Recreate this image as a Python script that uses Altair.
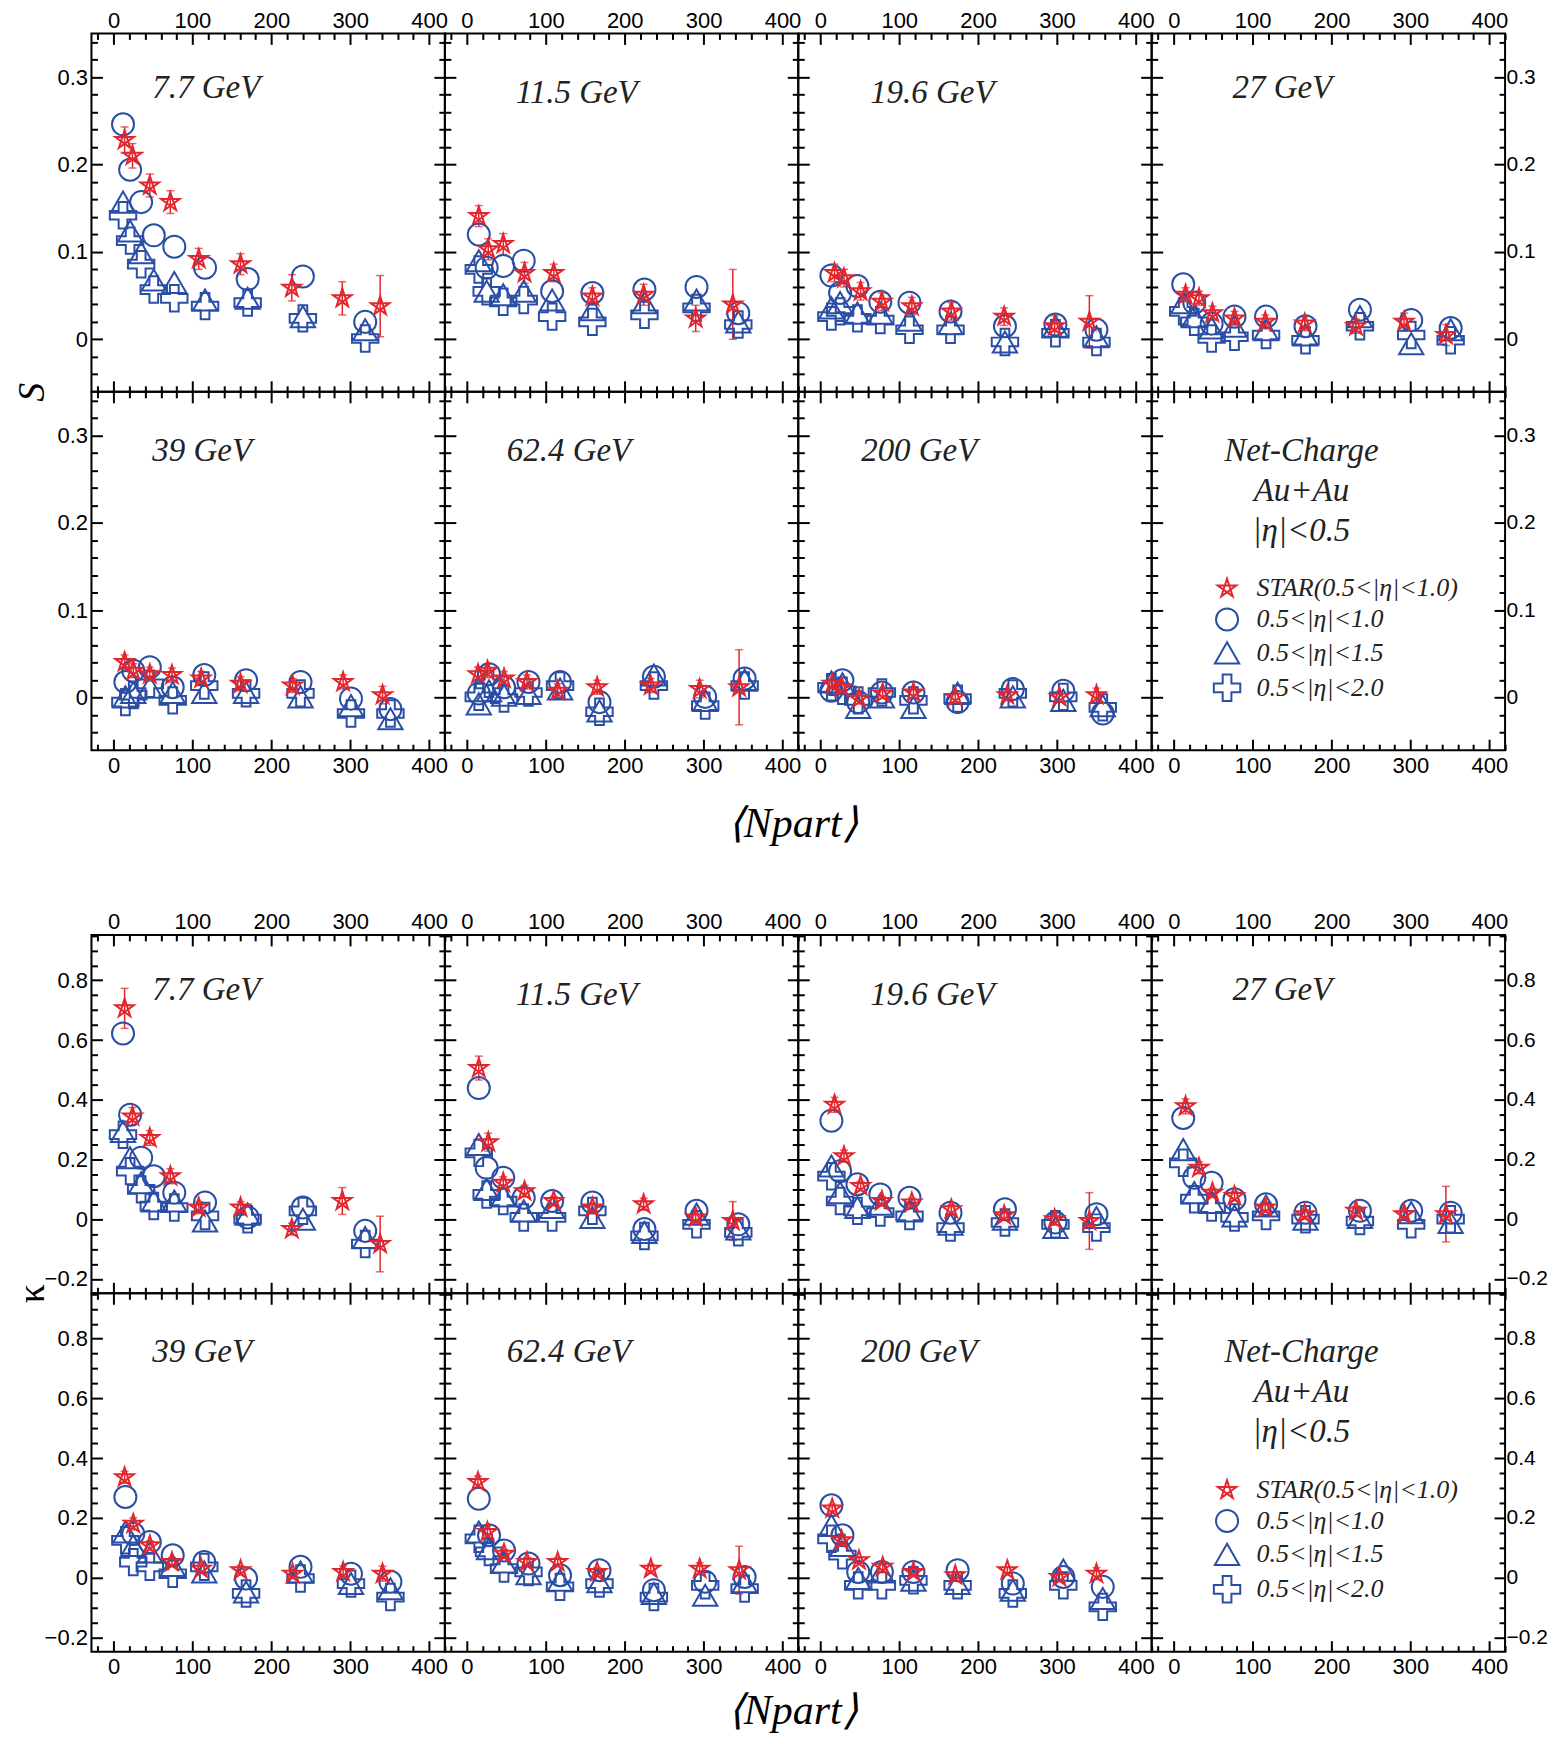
import altair as alt
import pandas as pd

# ---- data ----
energies = ["7.7 GeV", "11.5 GeV", "19.6 GeV", "27 GeV", "39 GeV", "62.4 GeV", "200 GeV"]
series = ["STAR(0.5<|η|<1.0)", "0.5<|η|<1.0", "0.5<|η|<1.5", "0.5<|η|<2.0"]
info_lines = ["Net-Charge", "Au+Au", "|η|<0.5"]

npart_star = [
    [14, 24, 46, 72, 108, 161, 226, 290, 338],
    [15, 27, 46, 73, 110, 159, 224, 290, 337],
    [18, 30, 51, 78, 116, 166, 233, 297, 341],
    [15, 32, 49, 77, 116, 166, 231, 292, 345],
    [14, 25, 46, 74, 111, 161, 227, 291, 341],
    [14, 26, 47, 76, 115, 165, 233, 295, 345],
    [15, 27, 49, 79, 118, 171, 237, 303, 350],
]
npart_model = [
    [12, 21, 35, 51, 77, 116, 170, 240, 319],
    [15, 25, 46, 72, 108, 159, 225, 291, 344],
    [14, 25, 47, 76, 113, 165, 234, 298, 350],
    [12, 26, 48, 77, 117, 167, 236, 301, 351],
    [15, 25, 46, 75, 115, 168, 237, 301, 351],
    [15, 28, 47, 78, 118, 168, 237, 302, 352],
    [14, 28, 48, 78, 118, 174, 244, 308, 358],
]

# skewness S
S_star = [
    [0.228, 0.210, 0.176, 0.157, 0.092, 0.086, 0.059, 0.047, 0.038],
    [0.141, 0.103, 0.109, 0.076, 0.076, 0.049, 0.051, 0.024, 0.040],
    [0.076, 0.070, 0.055, 0.043, 0.038, 0.032, 0.026, 0.015, 0.020],
    [0.051, 0.047, 0.030, 0.024, 0.020, 0.018, 0.015, 0.020, 0.005],
    [0.041, 0.031, 0.027, 0.026, 0.022, 0.016, 0.014, 0.018, 0.003],
    [0.027, 0.031, 0.022, 0.018, 0.008, 0.012, 0.014, 0.010, 0.012],
    [0.016, 0.012, -0.001, 0.005, 0.006, 0.001, 0.003, 0.001, 0.003],
]
S_star_err = [
    [0.015, 0.014, 0.013, 0.013, 0.012, 0.012, 0.015, 0.019, 0.035],
    [0.012, 0.012, 0.012, 0.012, 0.010, 0.010, 0.012, 0.015, 0.040],
    [0.010, 0.010, 0.010, 0.010, 0.010, 0.010, 0.010, 0.012, 0.030],
    [0.008, 0.008, 0.008, 0.008, 0.008, 0.008, 0.008, 0.010, 0.012],
    [0.008, 0.008, 0.008, 0.008, 0.008, 0.008, 0.008, 0.008, 0.010],
    [0.008, 0.008, 0.008, 0.008, 0.008, 0.008, 0.008, 0.010, 0.043],
    [0.006, 0.006, 0.006, 0.006, 0.006, 0.006, 0.006, 0.006, 0.008],
]
S_eta10 = [
    [0.246, 0.194, 0.157, 0.119, 0.106, 0.082, 0.069, 0.072, 0.020],
    [0.120, 0.082, 0.084, 0.090, 0.055, 0.053, 0.057, 0.060, 0.030],
    [0.073, 0.053, 0.061, 0.043, 0.042, 0.032, 0.015, 0.017, 0.011],
    [0.063, 0.042, 0.018, 0.026, 0.026, 0.015, 0.034, 0.022, 0.013],
    [0.018, 0.031, 0.035, 0.012, 0.026, 0.020, 0.018, -0.001, -0.013],
    [0.005, 0.027, 0.012, 0.018, 0.018, -0.005, 0.024, 0.001, 0.022],
    [0.008, 0.020, -0.005, 0.006, 0.006, -0.005, 0.010, 0.008, -0.018],
]
S_eta15 = [
    [0.157, 0.124, 0.099, 0.068, 0.065, 0.045, 0.047, 0.026, 0.011],
    [0.090, 0.055, 0.051, 0.055, 0.045, 0.034, 0.042, 0.045, 0.020],
    [0.036, 0.042, 0.030, 0.030, 0.022, 0.018, -0.003, 0.015, 0.003],
    [0.042, 0.026, 0.013, 0.015, 0.011, 0.005, 0.026, -0.005, 0.011],
    [0.001, 0.006, 0.012, 0.006, 0.006, 0.006, 0.001, -0.009, -0.024],
    [-0.007, 0.008, 0.003, 0.005, 0.010, -0.015, 0.026, -0.003, 0.020],
    [0.018, 0.016, -0.011, 0.001, -0.011, 0.005, 0.001, -0.003, -0.009],
]
S_eta20 = [
    [0.142, 0.113, 0.086, 0.057, 0.047, 0.038, 0.042, 0.024, 0.001],
    [0.080, 0.055, 0.043, 0.045, 0.026, 0.020, 0.028, 0.036, 0.017],
    [0.026, 0.032, 0.024, 0.022, 0.011, 0.011, -0.003, 0.007, -0.003],
    [0.032, 0.020, 0.001, 0.003, 0.005, -0.001, 0.015, 0.005, -0.001],
    [-0.005, 0.003, 0.016, -0.003, 0.014, 0.005, 0.005, -0.018, -0.018],
    [0.001, 0.016, -0.001, 0.006, 0.014, -0.016, 0.014, -0.009, 0.014],
    [0.012, 0.008, -0.003, 0.006, -0.003, -0.001, 0.005, 0.001, -0.011],
]

# kurtosis kappa
K_star = [
    [0.706, 0.344, 0.272, 0.144, 0.039, 0.039, -0.033, 0.061, -0.083],
    [0.506, 0.258, 0.122, 0.094, 0.061, 0.039, 0.050, 0.006, -0.006],
    [0.383, 0.211, 0.111, 0.061, 0.056, 0.033, 0.013, 0.000, -0.006],
    [0.378, 0.172, 0.089, 0.078, 0.039, 0.017, 0.028, 0.017, 0.017],
    [0.336, 0.180, 0.108, 0.052, 0.030, 0.025, 0.013, 0.019, 0.013],
    [0.320, 0.153, 0.080, 0.052, 0.052, 0.019, 0.030, 0.030, 0.025],
    [0.231, 0.125, 0.058, 0.036, 0.019, 0.008, 0.025, 0.002, 0.013],
]
K_star_err = [
    [0.067, 0.030, 0.025, 0.025, 0.020, 0.020, 0.020, 0.045, 0.093],
    [0.040, 0.030, 0.020, 0.020, 0.015, 0.015, 0.020, 0.020, 0.065],
    [0.025, 0.020, 0.015, 0.015, 0.015, 0.015, 0.015, 0.020, 0.095],
    [0.025, 0.020, 0.015, 0.015, 0.015, 0.015, 0.015, 0.020, 0.093],
    [0.020, 0.020, 0.015, 0.015, 0.015, 0.015, 0.015, 0.020, 0.025],
    [0.020, 0.020, 0.015, 0.015, 0.015, 0.015, 0.015, 0.020, 0.080],
    [0.015, 0.015, 0.010, 0.010, 0.010, 0.010, 0.010, 0.015, 0.020],
]
K_eta10 = [
    [0.622, 0.350, 0.206, 0.144, 0.089, 0.056, 0.006, 0.039, -0.039],
    [0.439, 0.172, 0.139, 0.072, 0.061, 0.056, -0.033, 0.028, -0.017],
    [0.330, 0.161, 0.117, 0.083, 0.072, 0.022, 0.033, -0.011, 0.017],
    [0.339, 0.139, 0.122, 0.067, 0.050, 0.022, 0.028, 0.028, 0.022],
    [0.270, 0.147, 0.119, 0.075, 0.052, -0.003, 0.036, 0.013, -0.014],
    [0.264, 0.142, 0.091, 0.047, 0.008, 0.025, -0.042, -0.014, 0.002],
    [0.242, 0.142, 0.019, 0.019, 0.019, 0.025, -0.020, 0.002, -0.031],
]
K_eta15 = [
    [0.294, 0.206, 0.122, 0.061, 0.061, -0.006, 0.017, 0.000, -0.061],
    [0.250, 0.100, 0.078, 0.028, 0.039, 0.006, -0.044, 0.017, -0.033],
    [0.178, 0.089, 0.039, 0.050, 0.028, -0.017, 0.000, -0.028, 0.006],
    [0.233, 0.089, 0.056, 0.011, 0.044, 0.000, 0.006, 0.022, -0.011],
    [0.153, 0.108, 0.086, 0.041, 0.019, -0.048, 0.019, -0.020, -0.037],
    [0.153, 0.097, 0.052, 0.013, -0.009, -0.014, -0.053, -0.059, -0.014],
    [0.175, 0.108, -0.003, 0.019, -0.009, -0.020, -0.042, 0.025, -0.070],
]
K_eta20 = [
    [0.283, 0.161, 0.100, 0.044, 0.039, 0.011, 0.000, 0.028, -0.083],
    [0.222, 0.083, 0.061, 0.006, 0.006, 0.028, -0.056, -0.017, -0.044],
    [0.144, 0.061, 0.028, 0.022, 0.011, -0.028, -0.011, -0.017, -0.028],
    [0.189, 0.067, 0.039, 0.006, 0.011, 0.000, -0.006, -0.017, 0.000],
    [0.125, 0.052, 0.036, 0.013, 0.036, -0.053, -0.003, -0.020, -0.065],
    [0.130, 0.086, 0.030, 0.019, -0.031, -0.020, -0.065, -0.026, -0.037],
    [0.130, 0.075, -0.026, -0.026, -0.009, -0.026, -0.053, -0.026, -0.098],
]

# axis ticks
x_major = [0, 100, 200, 300, 400]
x_minor = [-20, 20, 40, 60, 80, 120, 140, 160, 180, 220, 240, 260, 280,
           320, 340, 360, 380, 420]
S_major = [0, 0.1, 0.2, 0.3]
S_minor = [-0.04, -0.02, 0.02, 0.04, 0.06, 0.08, 0.12, 0.14, 0.16, 0.18,
           0.22, 0.24, 0.26, 0.28, 0.32, 0.34]
K_major = [-0.2, 0, 0.2, 0.4, 0.6, 0.8]
K_minor = [-0.15, -0.1, -0.05, 0.05, 0.1, 0.15, 0.25, 0.3, 0.35, 0.45, 0.5,
           0.55, 0.65, 0.7, 0.75, 0.85, 0.9, 0.95]

# ---- styling ----
RED = "#e3262e"
BLUE = "#2a4ea6"
STAR_PATH = "M0,-1L0.588,0.809L-0.951,-0.309L0.951,-0.309L-0.588,0.809Z"
PLUS_PATH = ("M-0.33,-1L0.33,-1L0.33,-0.33L1,-0.33L1,0.33L0.33,0.33L0.33,1"
             "L-0.33,1L-0.33,0.33L-1,0.33L-1,-0.33L-0.33,-0.33Z")
W, H, GAP = 354, 359, 185
X_DOMAIN = [-28, 420]
MAJOR, MINOR = 11, 6
SERIF = "Liberation Serif"
# pixel position of the energy label inside each panel
label_pos = [(61, 65), (71, 70), (72, 70), (81, 65), (61, 69), (62, 69), (63, 69)]

blocks = [
    dict(title="S", style="italic", xtitle_y=97, dom=[-0.06, 0.35],
         major=S_major, minor=S_minor,
         star=S_star, err=S_star_err, e10=S_eta10, e15=S_eta15, e20=S_eta20),
    dict(title="κ", style="normal", xtitle_y=82.6, dom=[-0.248, 0.952],
         major=K_major, minor=K_minor,
         star=K_star, err=K_star_err, e10=K_eta10, e15=K_eta15, e20=K_eta20),
]


def points_frame(b, i):
    rows = []
    for name, xs, ys in [(series[1], npart_model[i], b["e10"][i]),
                         (series[2], npart_model[i], b["e15"][i]),
                         (series[3], npart_model[i], b["e20"][i]),
                         (series[0], npart_star[i], b["star"][i])]:
        rows += [{"Npart": x, "val": y, "series": name} for x, y in zip(xs, ys)]
    return pd.DataFrame(rows)


def error_frame(b, i):
    return pd.DataFrame({
        "Npart": npart_star[i],
        "lo": [v - e for v, e in zip(b["star"][i], b["err"][i])],
        "hi": [v + e for v, e in zip(b["star"][i], b["err"][i])],
    })


def tick_axis(orient, values, size, show=False, pad=0, **extra):
    kw = dict(orient=orient, values=values, tickSize=size, offset=-size,
              domain=False, grid=False, labels=show, ticks=True,
              tickColor="black", tickWidth=2, title=None)
    if show:
        kw.update(labelPadding=pad, format="~r", labelFlush=False,
                  labelOverlap=False)
    kw.update(extra)
    return alt.Axis(**kw)


def make_panel(b, idx):
    row, col = divmod(idx, 4)
    legend_panel = idx == 7
    if legend_panel:
        df = pd.DataFrame({"Npart": [], "val": [], "series": []})
        edf = pd.DataFrame({"Npart": [], "lo": [], "hi": []})
    else:
        df = points_frame(b, idx)
        edf = error_frame(b, idx)

    xs = alt.Scale(domain=X_DOMAIN, nice=False, zero=False)
    ys = alt.Scale(domain=b["dom"], nice=False, zero=False)

    left_extra = {}
    if row == 0 and col == 0:
        left_extra = dict(title=b["title"], titleX=-59.4, titleY=H, titleAngle=-90,
                          titleAlign="center", titleBaseline="alphabetic",
                          titleFont=SERIF, titleFontStyle=b["style"],
                          titleFontSize=38, titleFontWeight="normal",
                          titleColor="black")
    bottom_extra = {}
    if row == 1 and col == 1:
        bottom_extra = dict(title="⟨Npart⟩", titleX=W - 6, titleY=b["xtitle_y"],
                            titleAlign="center", titleBaseline="alphabetic",
                            titleFont=SERIF, titleFontStyle="italic",
                            titleFontSize=42, titleFontWeight="normal",
                            titleColor="black")

    axes = [
        (tick_axis("bottom", x_major, MAJOR, row == 1, 5, **bottom_extra),
         tick_axis("left", b["major"], MAJOR, col == 0, 4, **left_extra)),
        (tick_axis("top", x_major, MAJOR, row == 0, 1),
         tick_axis("right", b["major"], MAJOR, col == 3, 1, labelFontSize=21)),
        (tick_axis("bottom", x_minor, MINOR), tick_axis("left", b["minor"], MINOR)),
        (tick_axis("top", x_minor, MINOR), tick_axis("right", b["minor"], MINOR)),
    ]
    layers = [
        alt.Chart(df).mark_point(opacity=0).encode(
            x=alt.X("Npart:Q", scale=xs, axis=xa),
            y=alt.Y("val:Q", scale=ys, axis=ya))
        for xa, ya in axes
    ]

    leg = None
    if legend_panel:
        leg = alt.Legend(orient="none", legendX=61, legendY=184, title=None,
                         labelFont=SERIF, labelFontStyle="italic",
                         labelFontSize=26, labelColor="#222", labelLimit=400,
                         symbolStrokeWidth=2, rowPadding=2, labelOffset=15,
                         padding=0)
    X = alt.X("Npart:Q", scale=xs, axis=None)
    Y = alt.Y("val:Q", scale=ys, axis=None)
    pts = alt.Chart(df).mark_point(filled=False, strokeWidth=2, opacity=1).encode(
        x=X, y=Y,
        color=alt.Color("series:N", legend=leg,
                        scale=alt.Scale(domain=series, range=[RED, BLUE, BLUE, BLUE])),
        shape=alt.Shape("series:N", legend=leg,
                        scale=alt.Scale(domain=series,
                                        range=[STAR_PATH, "circle", "triangle-up", PLUS_PATH])),
        size=alt.Size("series:N", legend=leg,
                      scale=alt.Scale(domain=series, range=[380, 700, 760, 560])),
    )
    ebase = alt.Chart(edf)
    rule = ebase.mark_rule(color=RED, strokeWidth=1.5).encode(
        x=X, y=alt.Y("lo:Q", scale=ys, axis=None), y2="hi:Q")
    cap_lo = ebase.mark_tick(color=RED, thickness=1.5, size=8, orient="horizontal").encode(
        x=X, y=alt.Y("lo:Q", scale=ys, axis=None))
    cap_hi = ebase.mark_tick(color=RED, thickness=1.5, size=8, orient="horizontal").encode(
        x=X, y=alt.Y("hi:Q", scale=ys, axis=None))
    layers += [rule, cap_lo, cap_hi, pts]

    if legend_panel:
        txt = alt.Chart(pd.DataFrame({"t": ["\n".join(info_lines)]})).mark_text(
            align="center", baseline="alphabetic", font=SERIF, fontStyle="italic",
            fontSize=33, color="#222", lineBreak="\n", lineHeight=40,
        ).encode(x=alt.value(150), y=alt.value(69), text="t:N")
    else:
        lx, ly = label_pos[idx]
        txt = alt.Chart(pd.DataFrame({"t": [energies[idx]]})).mark_text(
            align="left", baseline="alphabetic", font=SERIF, fontStyle="italic",
            fontSize=33, color="#222",
        ).encode(x=alt.value(lx), y=alt.value(ly), text="t:N")
    layers.append(txt)

    return alt.layer(*layers).resolve_axis(
        x="independent", y="independent").properties(width=W, height=H)


def spacer():
    return alt.Chart(pd.DataFrame({"s": []})).mark_point(opacity=0).properties(
        width=W, height=GAP, view=alt.ViewBackground(stroke="transparent"))


cells = []
for bi, b in enumerate(blocks):
    cells += [make_panel(b, i) for i in range(8)]
    if bi == 0:
        cells += [spacer() for _ in range(4)]

chart = alt.concat(
    *cells, columns=4, spacing=0, bounds="flush",
    align={"row": "each", "column": "all"},
).resolve_scale(
    x="independent", y="independent", color="independent",
    shape="independent", size="independent",
).resolve_legend(
    color="independent", shape="independent", size="independent",
).properties(
    padding={"left": 3.6, "top": -1, "right": 0, "bottom": 1.5},
).configure_view(
    stroke="black", strokeWidth=2,
).configure_axis(
    labelFont="Liberation Sans", labelFontSize=22, labelColor="black",
)

chart.save("out.html", embed_options={"renderer": "svg", "actions": False})
